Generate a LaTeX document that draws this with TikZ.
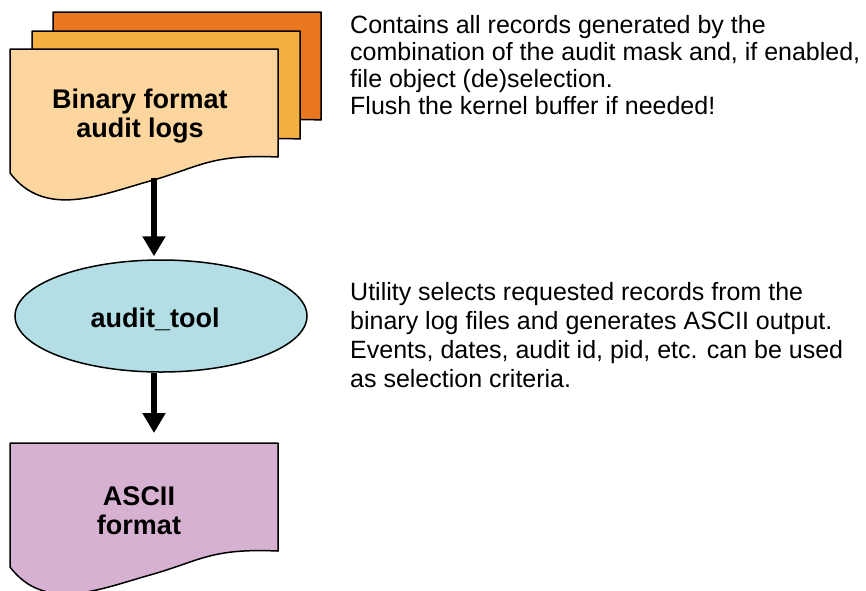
\documentclass[tikz,border=0pt]{standalone}
\usepackage{fontspec}
\setmainfont{Liberation Sans}
\usetikzlibrary{arrows.meta,shapes.geometric}

\definecolor{logback}{HTML}{E8771F}
\definecolor{logmid}{HTML}{F5B13F}
\definecolor{logfront}{HTML}{FCD69E}
\definecolor{toolblue}{HTML}{B3DEE5}
\definecolor{asciipink}{HTML}{D7B1D1}

% one sheet with a wavy foot, top left corner at (#1,#2)
\newcommand{\logsheet}[3]{%
  \begin{scope}[shift={(#1,#2)}]
    \filldraw[fill=#3, line width=1.5pt, line join=round] (0,0) -- (268,0) -- (268,108)
      .. controls (200,105) and (190,118) .. (140,132)
      .. controls (90,146) and (35,170) .. (0,124) -- cycle;
  \end{scope}}

\begin{document}
\begin{tikzpicture}[x=1pt, y=-1pt]
                \clip (0,0) rectangle (866,590);

                \logsheet{53}{12}{logback}
                \logsheet{32}{31}{logmid}
                \logsheet{10}{49}{logfront}
                \logsheet{10}{443}{asciipink}

                \node[ellipse, draw, line width=1.5pt, fill=toolblue,
                      minimum width=292pt, minimum height=112pt, inner sep=0pt]
                      (AuditTool) at (161,316) {};

                \begin{scope}[every node/.style = {font=\bfseries\fontsize{27}{29}\selectfont, align=center}]
                    \node (BinLog)    at (140,116) {Binary format\\audit logs};
                    \node (ToolLabel) at (155,319) {audit\_tool};
                    \node (AsciiOut)  at (139,511) {ASCII\\format};
                \end{scope}

                \begin{scope}[every node/.style = {align=left, anchor=north west, inner sep=0pt}]
                    \node[font=\fontsize{25}{27}\selectfont] (BinNote) at (350,15)
                        {Contains all records generated by the\\combination of the audit mask and, if enabled,\\file object (de)selection.\\Flush the kernel buffer if needed!};
                    \node[font=\fontsize{25}{29}\selectfont] (ToolNote) at (350,282)
                        {Utility selects requested records from the\\binary log files and generates ASCII output.\\Events, dates, audit id, pid, etc. can be used\\as selection criteria.};
                \end{scope}

                \coordinate (BinFoot)   at (154,178);
                \coordinate (AsciiTop)  at (154,443);

                \begin{scope}[>={Triangle[width=22pt, length=20pt]},
                                every edge/.style={draw=black, line width=6pt}]
                     \path [->, shorten >=3pt]  (BinFoot) edge (BinFoot |- AuditTool.north);
                     \path [->, shorten >=10pt] (BinFoot |- AuditTool.south) edge (AsciiTop);
                \end{scope}
            \end{tikzpicture}
\end{document}
